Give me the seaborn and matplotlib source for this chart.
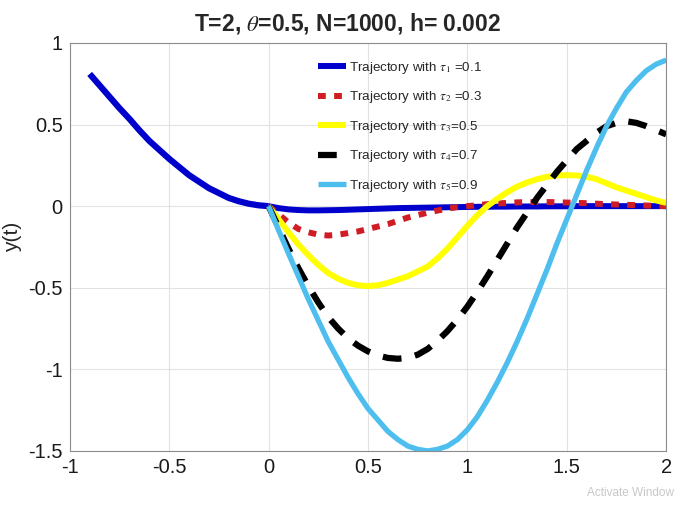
import matplotlib
matplotlib.use("Agg")
import matplotlib.pyplot as plt
import seaborn as sns
import pandas as pd

# history segment (shared by all runs)
t_hist = [-0.9, -0.85, -0.8, -0.75, -0.7, -0.65, -0.6, -0.55, -0.5, -0.45,
          -0.4, -0.35, -0.3, -0.25, -0.2, -0.15, -0.1, -0.05, 0.0]
y_hist = [0.81, 0.74, 0.67, 0.60, 0.535, 0.465, 0.40, 0.345, 0.29, 0.24,
          0.19, 0.15, 0.11, 0.08, 0.05, 0.03, 0.015, 0.005, 0.0]

t = [i * 0.05 for i in range(41)]

y_tau1 = [0.0, -0.012, -0.02, -0.024, -0.026, -0.026, -0.025, -0.024, -0.022, -0.02,
          -0.018, -0.016, -0.014, -0.012, -0.011, -0.01, -0.009, -0.008, -0.007, -0.006,
          -0.005, -0.004, -0.004, -0.003, -0.003, -0.002, -0.002, -0.002, -0.001, -0.001,
          -0.001, 0.0, 0.0, 0.0, 0.0, 0.0, 0.0, 0.0, 0.0, 0.0, 0.0]
y_tau2 = [0.0, -0.05, -0.10, -0.14, -0.16, -0.175, -0.18, -0.175, -0.165, -0.155,
          -0.14, -0.125, -0.11, -0.09, -0.07, -0.055, -0.04, -0.027, -0.015, -0.006,
          0.0, 0.006, 0.012, 0.016, 0.02, 0.023, 0.025, 0.025, 0.025, 0.024,
          0.022, 0.02, 0.018, 0.015, 0.012, 0.01, 0.008, 0.006, 0.004, 0.002, 0.0]
y_tau3 = [0.0, -0.08, -0.16, -0.235, -0.30, -0.36, -0.41, -0.445, -0.47, -0.485,
          -0.49, -0.485, -0.47, -0.45, -0.43, -0.40, -0.37, -0.32, -0.26, -0.19,
          -0.12, -0.055, 0.0, 0.045, 0.085, 0.12, 0.145, 0.165, 0.18, 0.188,
          0.19, 0.188, 0.18, 0.165, 0.14, 0.115, 0.095, 0.075, 0.055, 0.035, 0.02]
y_tau4 = [0.0, -0.13, -0.26, -0.38, -0.49, -0.59, -0.68, -0.75, -0.81, -0.855,
          -0.89, -0.915, -0.93, -0.935, -0.93, -0.91, -0.875, -0.825, -0.765, -0.695,
          -0.615, -0.525, -0.43, -0.33, -0.23, -0.13, -0.04, 0.05, 0.13, 0.21,
          0.28, 0.35, 0.40, 0.45, 0.49, 0.51, 0.52, 0.51, 0.49, 0.465, 0.44]
y_tau5 = [0.0, -0.147, -0.29, -0.43, -0.57, -0.70, -0.83, -0.94, -1.05, -1.15,
          -1.24, -1.31, -1.38, -1.43, -1.47, -1.49, -1.50, -1.49, -1.47, -1.43,
          -1.37, -1.29, -1.19, -1.08, -0.96, -0.83, -0.69, -0.54, -0.39, -0.23,
          -0.08, 0.07, 0.22, 0.36, 0.49, 0.60, 0.70, 0.77, 0.83, 0.87, 0.895]

labels = [r"Trajectory with $\tau_1$ =0.1", r"Trajectory with $\tau_2$ =0.3",
          r"Trajectory with $\tau_3$=0.5", r"Trajectory with $\tau_4$=0.7",
          r"Trajectory with $\tau_5$=0.9"]
colors = ["#0000cd", "#d01c24", "#ffff00", "#000000", "#4dbeee"]

xticks = [-1, -0.5, 0, 0.5, 1, 1.5, 2]
xtick_labels = ["-1", "-0.5", "0", "0.5", "1", "1.5", "2"]
yticks = [-1.5, -1, -0.5, 0, 0.5, 1]
ytick_labels = ["-1.5", "-1", "-0.5", "0", "0.5", "1"]

sns.set_style("whitegrid", {"axes.edgecolor": "#8c8c8c", "grid.color": "#e2e2e2",
                            "xtick.direction": "in", "ytick.direction": "in"})
plt.rcParams["font.family"] = ["Liberation Sans", "DejaVu Sans"]
plt.rcParams["axes.unicode_minus"] = False
plt.rcParams["mathtext.fontset"] = "stix"

fig = plt.figure(figsize=(6.84, 5.05), dpi=100)
ax = fig.add_axes([0.102, 0.107, 0.872, 0.808])

series = [y_tau1, y_tau2, y_tau3, y_tau4, y_tau5]
widths = [4.3, 4.3, 4.3, 4.5, 3.8]
dash_patterns = [None, (1.3, 1.4), None, (3.0, 2.2), None]

sns.lineplot(x=t_hist, y=y_hist, ax=ax, color=colors[0], lw=4.5,
             solid_capstyle="butt", legend=False)
for ys, lab, c, w, d in zip(series, labels, colors, widths, dash_patterns):
    df = pd.DataFrame({"t": t, "y": ys})
    line = ax.plot(df["t"], df["y"], color=c, label=lab, lw=w,
                   solid_capstyle="butt", dash_capstyle="butt")[0]
    if d is not None:
        line.set_dashes(d)

ax.set_xlim(-1, 2)
ax.set_ylim(-1.5, 1)
ax.set_xticks(xticks)
ax.set_xticklabels(xtick_labels)
ax.set_yticks(yticks)
ax.set_yticklabels(ytick_labels)
ax.tick_params(labelsize=14.5, length=4, color="#8c8c8c", labelcolor="#1a1a1a", pad=5)
for s in ax.spines.values():
    s.set_linewidth(0.8)

ax.set_title(r"T=2, $\theta$=0.5, N=1000, h= 0.002", fontsize=16.5, fontweight="bold",
             x=0.465, pad=9)
ax.set_ylabel("y(t)", fontsize=15)
ax.yaxis.set_label_coords(-0.08, 0.525)

ax.legend(loc="upper left", bbox_to_anchor=(0.40, 0.982), frameon=False, fontsize=9.6,
          handlelength=2.1, handletextpad=0.25, labelspacing=1.02, borderaxespad=0.3)

fig.text(0.985, 0.012, "Activate Window", ha="right", va="bottom", fontsize=8.5, color="#c8c8c8")

fig.savefig("out.png", dpi=100)
